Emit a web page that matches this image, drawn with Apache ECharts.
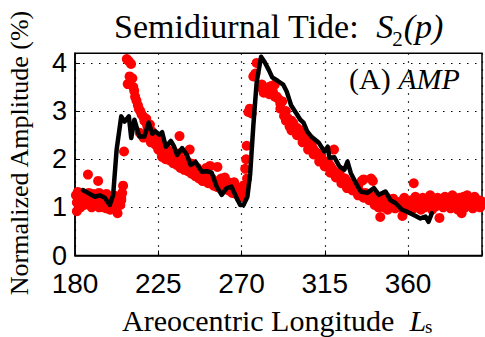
<!DOCTYPE html>
<html><head><meta charset="utf-8">
<script src="https://cdn.jsdelivr.net/npm/echarts@6/dist/echarts.min.js"></script>
<style>html,body{margin:0;padding:0;background:#fff}#c{width:485px;height:337px}</style>
</head><body><div id="c"></div>
<script>
// ---- data ----
const xTicks = [180, 225, 270, 315, 360];
const yTicks = [0, 1, 2, 3, 4];

// black curve (Ls, amplitude)
const lineLs = [184.3,187,190.7,193.4,196.1,198.8,200.6,202.5,205.0,206.8,209.1,210.4,212.1,214.8,217.5,219.8,221.8,223.4,225.5,227.1,229.1,231.8,233.6,235.2,237.9,240.5,242.5,245.2,248.6,251.3,253.9,256.6,259.3,262.0,264.6,267.3,269.3,271.1,273.2,274.7,276.4,278.2,280.6,282.5,284.8,286.6,289.5,292.5,294.5,296.8,299.5,301.8,303.5,305.5,308.0,311.8,314.8,316.6,317.5,320.2,322.9,325.6,327.3,329.1,331.8,334.4,338.0,341.6,344.3,347.8,350.5,353.2,356.8,359.5,363.1,366.7,369.4,371.1,372.9];
const lineAmp = [1.36,1.30,1.22,1.25,1.20,1.05,1.25,2.20,2.89,2.78,2.89,2.44,2.82,2.47,2.47,2.76,2.53,2.58,2.51,2.56,2.26,2.38,2.26,2.09,2.23,2.09,1.88,1.94,1.74,1.75,1.72,1.43,1.26,1.40,1.43,1.20,1.05,1.05,1.22,1.70,2.70,3.60,4.13,4.02,3.85,3.70,3.63,3.55,3.40,3.12,2.96,2.82,2.76,2.58,2.46,2.34,2.16,2.26,2.03,2.04,1.85,1.78,1.95,1.71,1.51,1.33,1.30,1.40,1.26,1.33,1.15,1.09,0.95,0.91,0.84,0.77,0.81,0.70,0.88];

// red dots (Ls, amplitude)
const redLs = [
180.5,181,181.5,182.5,183,184,185,186,187,187.5,188.5,189,190,190.5,191.5,192.5,193,194,195,195.5,196.5,197,198,199,199.5,200.5,201,202,203,203.5,204.5,205,205.5,206,206.5,
181,183,185,187,189,191,193,195,197,199,201,203,205,
208,209,209.5,210.3,208.5,211,211.5,212,212.5,213.2,214,214.5,215.3,216,217,217.5,218.5,219,219.5,220.5,221,221.5,222,223,223.5,224.5,225,
215,217,219,221,223,225,226.5,
226,227,228,229,230,231,232,233,234,235,236,236.5,237,238,239,240,241,242,243,244,245,246,247,248,249,250,251,252,253,254,255,256,257,258,259,260,261,262,263,264,265,266,267,268,269,270,271,
230,234,238,242,246,250,254,258,262,266,270,
227,229,231,233,235,237,239,241,243,245,247,249,251,253,255,257,259,261,263,265,267,269,
271,272,272.5,272.8,273,273.7,274.5,275.5,276.4,277.5,278.2,
280,281,282,283,284,285,286,287,288,289,290,291,292,293,294,295,296,297,298,299,300,301,302,303,304,305,306,307,308,309,310,311,312,313,314,315,316,317,318,319,320,321,322,323,324,325,326,327,328,329,330,331,332,333,334,335,336,337,338,339,340,341,342,343,344,345,
282,285,288,291,294,297,300,303,306,309,312,315,318,321,324,327,330,333,336,339,342,
340,342,344,
346,348,350,352,354,356,358,360,362,364,366,368,370,372,374,376,378,380,382,384,386,388,390,392,394,396,398,400,
347,349,351,353,355,357,359,361,363,365,367,369,371,373,375,377,379,381,383,385,387,389,391,393,395,397,399,
346.5,349.5,352.5,355.5,358.5,361.5,364.5,367.5,370.5,373.5,376.5,379.5,382.5,385.5,388.5,391.5,394.5,397.5,
363.1];
const redAmp = [
1.25,0.92,1.32,1.15,1.05,1.25,1.20,1.12,1.68,1.30,1.10,1.22,1.28,1.05,1.18,1.55,1.30,1.12,1.22,1.00,1.15,1.28,1.05,0.95,1.20,1.10,1.25,0.98,0.88,1.15,1.05,1.20,1.30,1.45,2.16,
1.10,1.00,1.05,1.18,1.00,1.12,1.00,1.08,0.98,1.10,1.15,1.05,1.15,
4.08,4.04,3.72,3.98,3.56,3.68,3.50,3.42,3.30,3.22,3.12,3.05,3.00,2.93,2.88,2.80,2.84,2.70,2.62,2.72,2.45,2.58,2.38,2.50,2.30,2.42,2.20,
2.55,2.45,2.50,2.35,2.40,2.30,2.25,
2.18,2.32,2.10,2.22,2.05,2.15,2.00,2.10,1.95,2.05,2.12,2.48,1.90,2.00,1.85,1.98,1.80,2.20,1.78,1.90,1.72,1.80,1.66,1.72,1.55,1.65,1.82,1.50,1.86,1.60,1.55,1.46,1.84,1.50,1.60,1.42,1.62,1.38,1.52,1.45,1.35,1.52,1.42,1.30,1.40,1.22,1.25,
2.20,2.05,1.95,1.92,1.82,1.70,1.52,1.45,1.50,1.40,1.35,
2.05,2.00,1.98,1.92,1.88,1.82,1.78,1.75,1.70,1.65,1.60,1.55,1.55,1.50,1.45,1.42,1.40,1.38,1.35,1.30,1.28,1.20,
1.45,1.80,2.00,2.28,1.60,2.98,3.05,2.95,3.72,3.78,4.00,
3.50,3.55,3.48,3.45,3.42,3.50,3.52,3.40,3.55,3.30,3.25,3.15,3.20,2.90,3.00,2.85,2.68,2.80,2.75,2.62,2.65,2.55,2.60,2.45,2.50,2.40,2.35,2.28,2.30,2.20,2.15,2.12,2.05,2.08,1.98,1.95,1.90,1.92,1.86,1.80,2.20,1.72,1.66,1.70,1.62,1.58,1.60,1.48,1.52,1.45,1.42,1.46,1.38,1.42,1.32,1.55,1.58,1.30,1.22,1.28,1.60,1.55,1.22,1.18,1.12,0.80,
3.38,3.35,3.30,3.05,2.80,2.60,2.50,2.35,2.20,2.10,1.95,1.85,1.72,1.62,1.50,1.40,1.35,1.25,1.20,1.15,1.08,
1.20,1.05,1.00,
1.15,1.22,1.10,1.18,1.05,1.12,1.20,1.08,1.15,1.22,1.10,1.20,1.15,1.25,1.12,1.20,1.10,1.22,1.18,1.25,1.15,1.20,1.22,1.25,1.18,1.22,1.15,1.12,
1.00,0.95,1.05,0.98,1.00,0.82,0.95,1.02,0.98,1.05,0.95,1.00,1.05,0.95,1.02,0.78,1.00,1.05,0.98,1.02,0.95,0.88,1.00,1.05,0.98,1.02,1.00,
1.08,1.10,1.12,1.08,1.05,1.10,1.12,1.08,1.10,1.12,1.05,1.10,1.08,1.12,1.10,1.08,1.12,1.10,
1.50];

const titleMain = 'Semidiurnal Tide:';
const xName = 'Areocentric Longitude';
const yName = 'Normalized Amplitude (%)';

// ---- chart ----
const chart = echarts.init(document.getElementById('c'), null, {renderer: 'svg'});
const SERIF = "'Liberation Serif','Times New Roman',serif";
const SANS = "'Liberation Sans',Arial,sans-serif";
const mctx = document.createElement('canvas').getContext('2d');
function tw(t, f) { mctx.font = f; return mctx.measureText(t).width; }

const fT = "34px " + SERIF, fTi = "italic 34px " + SERIF, fTs = "21px " + SERIF;
const tX0 = 114;
const tX1 = tX0 + tw(titleMain + '  ', fT);
const tX2 = tX1 + tw('S', fTi) - 1;
const tX3 = tX2 + tw('2', fTs);

const fX = "30px " + SERIF, fXi = "italic 30px " + SERIF, fXs = "19px " + SERIF;
const xX0 = 122;
const xX1 = xX0 + tw(xName + '  ', fX);
const xX2 = xX1 + tw('L', fXi) - 1;

const fA = "30px " + SERIF, fAi = "italic 30px " + SERIF;
const aX0 = 349;
const aX1 = aX0 + tw('(A) ', fA);

function txt(text, x, y, font, extra) {
  return Object.assign({type: 'text', x: x, y: y, z: 100,
    style: {text: text, font: font, fill: '#000', textFill: '#000',
      textAlign: 'left', align: 'left', textVerticalAlign: 'middle', verticalAlign: 'middle'}}, extra || {});
}

const option = {
  animation: false,
  grid: {left: 75, right: 1.5, top: 53.3, bottom: 81.5, show: true, borderColor: '#000', borderWidth: 1.5, backgroundColor: 'transparent'},
  xAxis: {
    type: 'value', min: 180, max: 400, interval: 45,
    axisLine: {show: true, lineStyle: {color: '#000', width: 1.5}},
    axisTick: {show: true, inside: true, length: 5, lineStyle: {color: '#000'}},
    axisLabel: {color: '#000', fontFamily: SANS, fontSize: 28, margin: 14,
      formatter: v => xTicks.indexOf(v) >= 0 ? String(v) : ''},
    splitLine: {show: true, lineStyle: {color: '#000', width: 1.2, type: [1.5, 6.5]}}
  },
  yAxis: {
    type: 'value', min: 0, max: 4.2, interval: 1,
    axisLine: {show: true, lineStyle: {color: '#000', width: 1.5}},
    axisTick: {show: true, inside: true, length: 5, lineStyle: {color: '#000'}},
    axisLabel: {color: '#000', fontFamily: SANS, fontSize: 27, margin: 8,
      formatter: v => yTicks.indexOf(v) >= 0 ? String(v) : ''},
    splitLine: {show: true, lineStyle: {color: '#000', width: 1.2, type: [1.5, 6.5]}}
  },
  series: [
    {type: 'scatter', symbol: 'circle', symbolSize: 10, itemStyle: {color: '#ff0000', opacity: 1},
     data: redLs.map((x, i) => [x, redAmp[i]]), z: 2, clip: true},
    {type: 'line', showSymbol: false, symbol: 'none', lineStyle: {color: '#000', width: 4.5, join: 'round', cap: 'round'},
     data: lineLs.map((x, i) => [x, lineAmp[i]]), z: 3, clip: true}
  ],
  graphic: [
    txt(titleMain, tX0, 26, fT),
    txt('S', tX1, 26, fTi),
    txt('2', tX2, 39, fTs),
    txt('(p)', tX3 + 1, 26, fTi),
    txt(xName, xX0, 320, fX),
    txt('L', xX1, 320, fXi),
    txt('s', xX2, 326, fXs),
    txt('(A) ', aX0, 78, fA),
    txt('AMP', aX1, 78, fAi),
    txt(yName, 19, 153, "26px " + SERIF, {rotation: Math.PI / 2,
      style: {text: yName, font: "26px " + SERIF, fill: '#000', textFill: '#000', textAlign: 'center', align: 'center', textVerticalAlign: 'middle', verticalAlign: 'middle'}})
  ]
};
chart.setOption(option);
</script>
</body></html>
